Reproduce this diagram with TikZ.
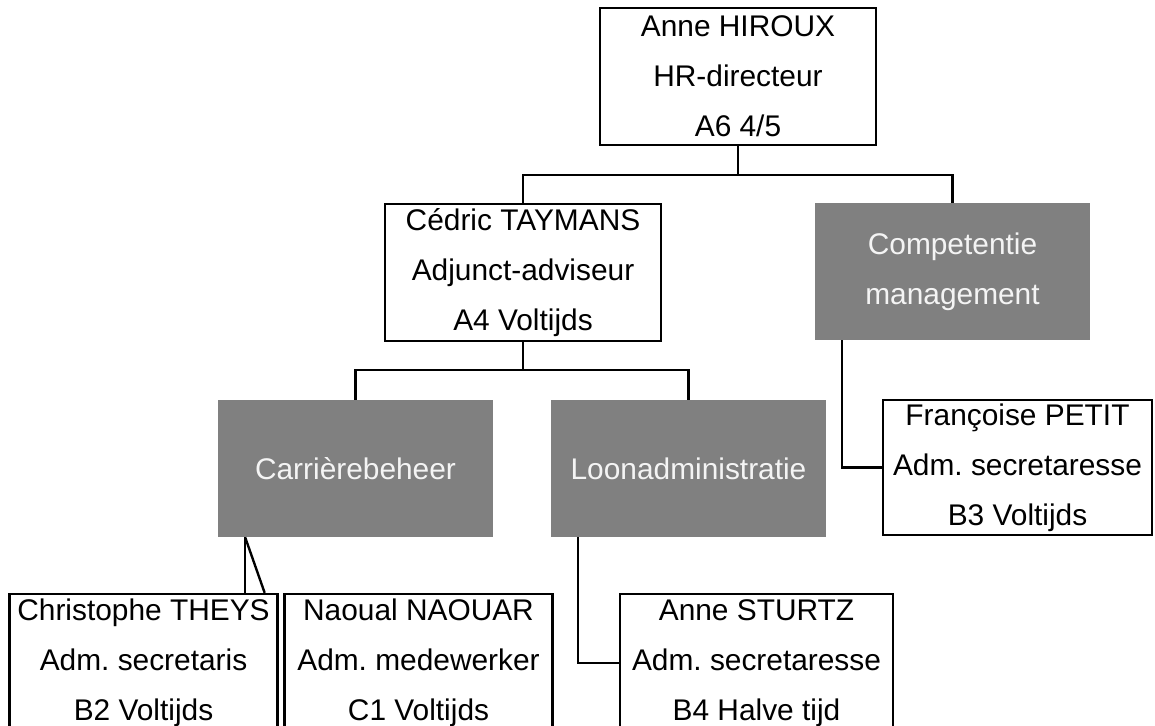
\documentclass[tikz,border=0pt]{standalone}
\usepackage{fontspec}
\setmainfont{Liberation Sans}
\usetikzlibrary{calc,positioning}
\definecolor{grisservice}{HTML}{808080}
\definecolor{blanccasse}{HTML}{F4F4F4}
\frenchspacing

\begin{document}
\begin{tikzpicture}[x=0.02cm, y=-0.02cm]
    % Styles
    \tikzset{lien/.style={line width=1.35pt}}%
    \tikzset{cadre/.style={minimum width=5.52cm, minimum height=2.74cm, inner sep=0pt, align=center, font=\fontsize{17}{28.5}\selectfont}}%
    \tikzset{poste/.style={cadre, draw, line width=1.35pt, fill=white}}%
    \tikzset{service/.style={cadre, fill=grisservice, text=blanccasse}}%
    \tikzset{agent/.style={poste, minimum width=5.36cm, minimum height=2.76cm}}%

    % Cadre de la page
    \useasboundingbox (0,0) rectangle (1155,726);%

    % Direction
    \node[poste] (hiroux) at (738,76.5) {Anne HIROUX\\HR-directeur\\A6 4/5};%
    \node[poste] (taymans) at (523,272.5) {Cédric TAYMANS\\Adjunct-adviseur\\A4 Voltijds};%
    \node[service] (competentie) at (952.5,271.5) {Competentie\\management};%

    % Services
    \node[service] (carriere) at (355.5,468.5) {Carrièrebeheer};%
    \node[service] (loon) at (688.5,468.5) {Loonadministratie};%
    \node[poste, minimum width=5.38cm, minimum height=2.7cm] (petit) at (1017.5,467.5) {Françoise PETIT\\Adm. secretaresse\\B3 Voltijds};%

    % Agents
    \node[agent] (theys) at (143.5,663) {Christophe THEYS\\Adm. secretaris\\B2 Voltijds};%
    \node[agent] (naouar) at (418.5,663) {Naoual NAOUAR\\Adm. medewerker\\C1 Voltijds};%
    \node[agent, minimum width=5.46cm] (sturtz) at (756.5,663) {Anne STURTZ\\Adm. secretaresse\\B4 Halve tijd};%

    % Liens hiérarchiques
    \draw[lien] (hiroux.south) -- ++(0,29) -| (taymans.north);%
    \draw[lien] (hiroux.south) -- ++(0,29) -| (competentie.north);%
    \draw[lien] (taymans.south) -- ++(0,28) -| (carriere.north);%
    \draw[lien] (taymans.south) -- ++(0,28) -| (loon.north);%

    % Liens vers les agents
    \coordinate (carriere bas) at ($(carriere.south west)+(28,0)$);%
    \coordinate (loon bas) at ($(loon.south west)+(28,0)$);%
    \coordinate (competentie bas) at ($(competentie.south west)+(28,0)$);%
    \draw[lien] (carriere bas) -- (carriere bas |- theys.north);%
    \draw[lien] (carriere bas) -- ($(theys.north east)+(-14,0)$);%
    \draw[lien] (loon bas) |- (sturtz.west);%
    \draw[lien] (competentie bas) |- (petit.west);%
\end{tikzpicture}
\end{document}
